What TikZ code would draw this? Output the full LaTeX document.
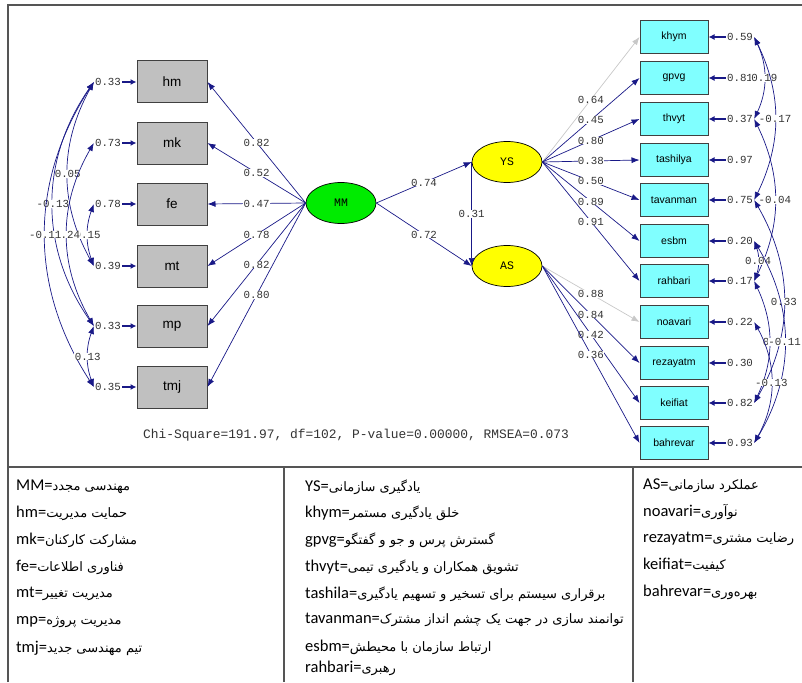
\documentclass[tikz,border=0pt]{standalone}
\usepackage{fontspec}
\setmainfont{Liberation Sans}
\newfontfamily\monof{Liberation Mono}
\newfontfamily\legf{Carlito}
\newfontfamily\fafont[Script=Arabic]{DejaVu Sans}
\TeXXeTstate=1
\usetikzlibrary{arrows.meta,shapes.geometric,calc}
\definecolor{navy}{RGB}{25,25,135}
\definecolor{lgray}{RGB}{200,200,200}
\definecolor{boxgray}{RGB}{192,192,192}
\definecolor{boxcyan}{RGB}{128,255,255}
\definecolor{mmgreen}{RGB}{0,235,0}
\definecolor{ylw}{RGB}{255,255,0}
\definecolor{framec}{RGB}{85,85,85}
\newcommand{\fa}[1]{{\fafont\fontsize{13}{15}\selectfont\beginR #1\endR}}
\begin{document}
\begin{tikzpicture}[x=1pt,y=-1pt,
 arr/.style={draw=navy, line width=0.7pt, -{Latex[length=8pt,width=6pt]}},
 garr/.style={draw=lgray, line width=0.7pt, -{Latex[length=8pt,width=6pt]}},
 earr/.style={draw=navy, line width=1.4pt, -{Latex[length=6pt,width=6pt]}},
 cov/.style={draw=navy, line width=0.7pt, {Latex[length=8pt,width=6pt]}-{Latex[length=8pt,width=6pt]}},
 val/.style={font=\monof\fontsize{10.8}{12}\selectfont, inner sep=1pt, text=black!80},
 lab/.style={val, fill=white, inner sep=0.3pt},
 gbox/.style={draw=black!75, line width=1pt, fill=boxgray, minimum width=70pt, minimum height=42pt, inner sep=0pt, font=\fontsize{13.5}{15}\selectfont},
 cbox/.style={draw=black!75, line width=1pt, fill=boxcyan, minimum width=68pt, minimum height=33pt, inner sep=0pt, font=\fontsize{10.5}{12}\selectfont},
 lat/.style={ellipse, draw=black, line width=0.7pt, minimum width=70pt, minimum height=41pt, inner sep=0pt, font=\monof\fontsize{11.5}{12}\selectfont},
 leg/.style={anchor=west, inner sep=0pt, font=\legf\fontsize{16.5}{18}\selectfont},
 frame/.style={draw=framec, line width=1.4pt}
]
\useasboundingbox (0,0) rectangle (802,682);
% frame and table
\draw[frame] (8,682) -- (8,5) -- (802,5);
\draw[frame] (8,467) -- (802,467);
\draw[frame] (284,467) -- (284,682);
\draw[frame] (633,467) -- (633,682);

% left observed variables
\node[gbox] (hm) at (172,82) {hm};
\node[gbox] (mk) at (172,143) {mk};
\node[gbox] (fe) at (172,204) {fe};
\node[gbox] (mt) at (172,266) {mt};
\node[gbox] (mp) at (172,326) {mp};
\node[gbox] (tmj) at (172,387) {tmj};

% right observed variables
\node[cbox] (khym) at (674,37) {khym};
\node[cbox] (gpvg) at (674,78) {gpvg};
\node[cbox] (thvyt) at (674,119) {thvyt};
\node[cbox] (tashilya) at (674,160) {tashilya};
\node[cbox] (tavanman) at (674,200) {tavanman};
\node[cbox] (esbm) at (674,241) {esbm};
\node[cbox] (rahbari) at (674,281) {rahbari};
\node[cbox] (noavari) at (674,322) {noavari};
\node[cbox] (rezayatm) at (674,363) {rezayatm};
\node[cbox] (keifiat) at (674,403) {keifiat};
\node[cbox] (bahrevar) at (674,443) {bahrevar};

% latent variables
\node[lat, fill=mmgreen] (MM) at (341,203) {MM};
\node[lat, fill=ylw] (YS) at (507,162) {YS};
\node[lat, fill=ylw] (AS) at (507,266) {AS};

% loadings MM
\draw[arr] (MM.west) -- node[lab]{0.82} (hm.east);
\draw[arr] (MM.west) -- node[lab]{0.52} (mk.east);
\draw[arr] (MM.west) -- node[lab]{0.47} (fe.east);
\draw[arr] (MM.west) -- node[lab]{0.78} (mt.east);
\draw[arr] (MM.west) -- node[lab]{0.82} (mp.east);
\draw[arr] (MM.west) -- node[lab]{0.80} (tmj.east);

% structural
\draw[arr] (MM.east) -- node[lab]{0.74} (YS.west);
\draw[arr] (MM.east) -- node[lab]{0.72} (AS.west);
\draw[arr] (YS.west) -- node[lab]{0.31} (AS.west);

% loadings YS
\draw[garr] (YS.east) -- node[lab]{0.64} (khym.west);
\draw[arr] (YS.east) -- node[lab]{0.45} (gpvg.west);
\draw[arr] (YS.east) -- node[lab]{0.80} (thvyt.west);
\draw[arr] (YS.east) -- node[lab]{0.38} (tashilya.west);
\draw[arr] (YS.east) -- node[lab]{0.50} (tavanman.west);
\draw[arr] (YS.east) -- node[lab]{0.89} (esbm.west);
\draw[arr] (YS.east) -- node[lab]{0.91} (rahbari.west);

% loadings AS
\draw[garr] (AS.east) -- node[lab]{0.88} (noavari.west);
\draw[arr] (AS.east) -- node[lab]{0.84} (rezayatm.west);
\draw[arr] (AS.east) -- node[lab]{0.42} (keifiat.west);
\draw[arr] (AS.east) -- node[lab]{0.36} (bahrevar.west);

% left error variances
\foreach \n/\v/\y in {hm/0.33/82, mk/0.73/143, fe/0.78/204, mt/0.39/266, mp/0.33/326, tmj/0.35/387}{
  \node[val] (e\n) at (108,\y) {\v};
  \draw[earr] (e\n.east) -- (\n.west);
}
% right error variances
\foreach \n/\v/\y in {khym/0.59/37, gpvg/0.81/78, thvyt/0.37/119, tashilya/0.97/160, tavanman/0.75/200, esbm/0.20/241, rahbari/0.17/281, noavari/0.22/322, rezayatm/0.30/363, keifiat/0.82/403, bahrevar/0.93/443}{
  \node[val] (e\n) at (740,\y) {\v};
  \draw[earr] (e\n.west) -- (\n.east);
}

% left covariances
\draw[cov] (ehm.west) to[bend right=29] node[lab]{0.05} (emt.west);
\draw[cov] (ehm.west) to[bend right=35] node[lab]{-0.13} (emp.west);
\draw[cov] (efe.west) to[bend right=20] node[lab]{0.15} (emt.west);
\draw[cov] (emk.west) to[bend right=30] node[lab]{0.24} (emp.west);
\draw[cov] (ehm.west) to[bend right=33] node[lab]{-0.11} (etmj.west);
\draw[cov] (emp.west) to[bend right=20] node[lab]{0.13} (etmj.west);

% right covariances
\draw[cov] (ekhym.east) to[bend left=25] node[lab]{0.19} (ethvyt.east);
\draw[cov] (ekhym.east) to[bend left=26] node[lab]{-0.17} (etavanman.east);
\draw[cov] (ethvyt.east) to[bend left=26] node[lab]{-0.04} (erahbari.east);
\draw[cov] (eesbm.east) to[bend left=20] node[lab]{0.04} (erahbari.east);
\draw[cov] (etavanman.east) to[bend left=30] node[lab]{0.33} (ekeifiat.east);
\draw[cov] (erahbari.east) to[bend left=25] node[lab]{0.} (ekeifiat.east);
\draw[cov] (eesbm.east) to[bend left=31] node[lab]{-0.11} (ebahrevar.east);
\draw[cov] (enoavari.east) to[bend left=29] node[lab]{-0.13} (ebahrevar.east);

% fit statistics
\node[font=\monof\fontsize{12.9}{14}\selectfont, inner sep=0pt, text=black!80] (fit) at (356,435) {Chi-Square=191.97, df=102, P-value=0.00000, RMSEA=0.073};

% legend
\node[leg] (l1) at (16,487) {MM=\fa{مهندسی مجدد}};
\node[leg] (l2) at (16,513) {hm=\fa{حمایت مدیریت}};
\node[leg] (l3) at (16,540) {mk=\fa{مشارکت کارکنان}};
\node[leg] (l4) at (16,567) {fe=\fa{فناوری اطلاعات}};
\node[leg] (l5) at (16,594) {mt=\fa{مدیریت تغییر}};
\node[leg] (l6) at (16,622) {mp=\fa{مدیریت پروژه}};
\node[leg] (l7) at (16,648) {tmj=\fa{تیم مهندسی جدید}};

\node[leg] (m1) at (305,487) {YS=\fa{یادگیری سازمانی}};
\node[leg] (m2) at (305,513) {khym=\fa{خلق یادگیری مستمر}};
\node[leg] (m3) at (305,540) {gpvg=\fa{گسترش پرس و جو و گفتگو}};
\node[leg] (m4) at (305,567) {thvyt=\fa{تشویق همکاران و یادگیری تیمی}};
\node[leg] (m5) at (305,594) {tashila=\fa{برقراری سیستم برای تسخیر و تسهیم یادگیری}};
\node[leg] (m6) at (305,620) {tavanman=\fa{توانمند سازی در جهت یک چشم انداز مشترک}};
\node[leg] (m7) at (305,647) {esbm=\fa{ارتباط سازمان با محیطش}};
\node[leg] (m8) at (305,668) {rahbari=\fa{رهبری}};

\node[leg] (r1) at (643,486) {AS=\fa{عملکرد سازمانی}};
\node[leg] (r2) at (643,512) {noavari=\fa{نوآوری}};
\node[leg] (r3) at (643,539) {rezayatm=\fa{رضایت مشتری}};
\node[leg] (r4) at (643,565) {keifiat=\fa{کیفیت}};
\node[leg] (r5) at (643,592) {bahrevar=\fa{بهره‌وری}};
\end{tikzpicture}
\end{document}
